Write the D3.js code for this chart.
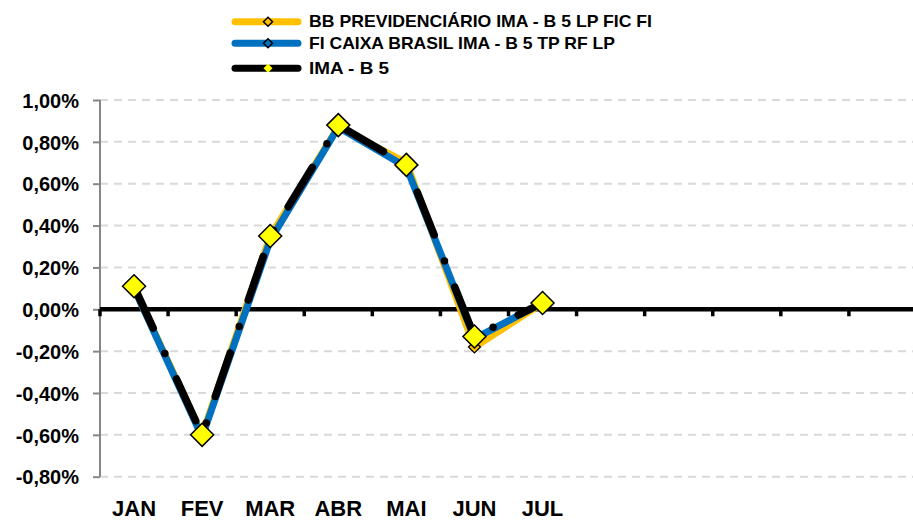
<!DOCTYPE html>
<html lang="pt">
<head>
<meta charset="utf-8">
<script src="https://d3js.org/d3.v7.min.js"></script>
<style>
  body { margin: 0; background: #fff; }
  text { font-family: "Liberation Sans", Arial, sans-serif; font-weight: bold; fill: #000; }
</style>
</head>
<body>
<script>
// data (monthly return, %)
var months = ["JAN", "FEV", "MAR", "ABR", "MAI", "JUN", "JUL", "", "", "", "", ""];
var bbPrev  = [0.10, -0.60, 0.35, 0.87, 0.70, -0.18, 0.03];
var caixa   = [0.10, -0.61, 0.33, 0.87, 0.68, -0.14, 0.03];
var imaB5   = [0.11, -0.60, 0.35, 0.88, 0.69, -0.13, 0.03];
var yTicks  = [1.0, 0.8, 0.6, 0.4, 0.2, 0.0, -0.2, -0.4, -0.6, -0.8];
var seriesNames = ["BB PREVIDENCIÁRIO IMA - B 5 LP FIC FI", "FI CAIXA BRASIL IMA - B 5 TP RF LP", "IMA - B 5"];

var width = 913, height = 521;
var svg = d3.select("body").append("svg")
  .attr("width", width).attr("height", height);

var x = d3.scaleBand().domain(d3.range(months.length)).range([100, 917]);
var y = d3.scaleLinear().domain([-0.8, 1.0]).range([476.7, 100]);
var fmt = function(v) { return d3.format(".2f")(v).replace(".", ",").replace("−", "-") + "%"; };

// gridlines
svg.append("g").selectAll("line")
  .data(yTicks.filter(function(d) { return d !== 0; }))
  .enter().append("line")
  .attr("x1", 100).attr("x2", width)
  .attr("y1", function(d) { return y(d); }).attr("y2", function(d) { return y(d); })
  .attr("stroke", "#d9d9d9").attr("stroke-width", 2).attr("stroke-dasharray", "8 6");

// y axis
var yAxis = svg.append("g").attr("transform", "translate(100,0)")
  .call(d3.axisLeft(y).tickValues(yTicks).tickFormat(fmt).tickSize(7).tickPadding(14));
yAxis.select(".domain").attr("stroke", "#868686").attr("stroke-width", 2)
  .attr("d", "M0," + y(-0.8) + "V" + y(1.0));
yAxis.selectAll(".tick line").attr("stroke", "#868686").attr("stroke-width", 2);
yAxis.selectAll(".tick text").style("font-size", "20px").attr("dy", "0.36em");

// zero line with category ticks
var xAxis = svg.append("g").attr("transform", "translate(0," + y(0) + ")")
  .call(d3.axisBottom(x).tickFormat("").tickSize(0));
xAxis.select(".domain").attr("stroke", "#000").attr("stroke-width", 4.5)
  .attr("d", "M100,0H" + width);
xAxis.selectAll(".tick").remove();
xAxis.selectAll("line.cat")
  .data(d3.range(months.length + 1))
  .enter().append("line").attr("class", "cat")
  .attr("x1", function(i) { return 100 + i * x.step(); })
  .attr("x2", function(i) { return 100 + i * x.step(); })
  .attr("y1", 0).attr("y2", 7)
  .attr("stroke", "#000").attr("stroke-width", 3.5);

// month labels
svg.append("g").selectAll("text")
  .data(months)
  .enter().append("text")
  .attr("x", function(d, i) { return x(i) + x.bandwidth() / 2; })
  .attr("y", 516)
  .attr("text-anchor", "middle")
  .style("font-size", "22px")
  .text(function(d) { return d; });

var line = d3.line()
  .x(function(d, i) { return x(i) + x.bandwidth() / 2; })
  .y(function(d) { return y(d); });

function diamond(r) {
  return "M0," + (-r) + "L" + r + ",0L0," + r + "L" + (-r) + ",0Z";
}

// BB line
svg.append("path").datum(bbPrev).attr("d", line)
  .attr("fill", "none").attr("stroke", "#FFC000").attr("stroke-width", 7)
  .attr("stroke-linejoin", "round");
// CAIXA line
svg.append("path").datum(caixa).attr("d", line)
  .attr("fill", "none").attr("stroke", "#0070C0").attr("stroke-width", 7)
  .attr("stroke-linejoin", "round");

// small markers
svg.append("g").selectAll("path")
  .data(bbPrev).enter().append("path")
  .attr("transform", function(d, i) { return "translate(" + (x(i) + x.bandwidth() / 2) + "," + y(d) + ")"; })
  .attr("d", diamond(6)).attr("fill", "#FFC000").attr("stroke", "#000").attr("stroke-width", 1.3);
svg.append("g").selectAll("path")
  .data(caixa).enter().append("path")
  .attr("transform", function(d, i) { return "translate(" + (x(i) + x.bandwidth() / 2) + "," + y(d) + ")"; })
  .attr("d", diamond(6)).attr("fill", "#0070C0").attr("stroke", "#000").attr("stroke-width", 1.3);

// IMA-B 5 line, long dash dot
svg.append("path").datum(imaB5).attr("d", line)
  .attr("fill", "none").attr("stroke", "#000").attr("stroke-width", 7.5)
  .attr("stroke-linecap", "round").attr("stroke-linejoin", "round")
  .attr("stroke-dasharray", "46 28 0 28");

svg.append("g").selectAll("path")
  .data(imaB5).enter().append("path")
  .attr("transform", function(d, i) { return "translate(" + (x(i) + x.bandwidth() / 2) + "," + y(d) + ")"; })
  .attr("d", diamond(11.5)).attr("fill", "#FFFF00").attr("stroke", "#000").attr("stroke-width", 1.5);

// legend
var legendRows = [
  { name: seriesNames[0], color: "#FFC000", marker: "#FFC000", y: 21.7, w: 343 },
  { name: seriesNames[1], color: "#0070C0", marker: "#0070C0", y: 43.3, w: 306 },
  { name: seriesNames[2], color: "#000", marker: "#FFFF00", y: 68.3, w: 80 }
];
var legend = svg.append("g").selectAll("g")
  .data(legendRows).enter().append("g")
  .attr("transform", function(d) { return "translate(0," + d.y + ")"; });
legend.append("line")
  .attr("x1", 235).attr("x2", 298).attr("y1", 0).attr("y2", 0)
  .attr("stroke", function(d) { return d.color; }).attr("stroke-width", 7)
  .attr("stroke-linecap", "round");
legend.append("path")
  .attr("transform", "translate(268,0)")
  .attr("d", diamond(4.5))
  .attr("fill", function(d) { return d.marker; })
  .attr("stroke", function(d, i) { return i === 2 ? "none" : "#000"; })
  .attr("stroke-width", 1.5);
legend.append("text")
  .attr("x", 309).attr("y", 5.5)
  .attr("textLength", function(d) { return d.w; })
  .attr("lengthAdjust", "spacingAndGlyphs")
  .style("font-size", "17px")
  .text(function(d) { return d.name; });
</script>
</body>
</html>
